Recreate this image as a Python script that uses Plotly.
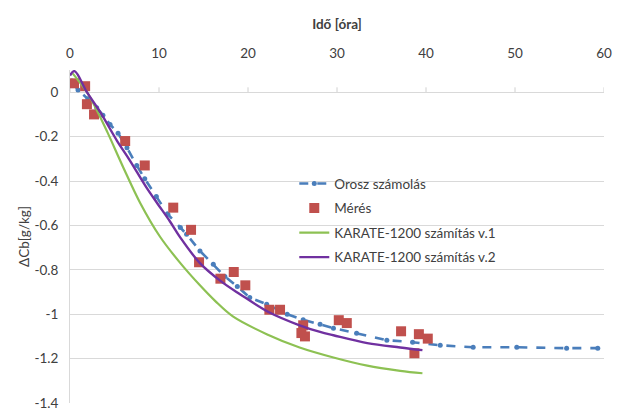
import plotly.graph_objects as go

# --- Data ---
orosz_x = [0.2, 0.9, 2.0, 3.0, 3.7, 4.5, 5.4, 6.4, 7.5, 8.4, 9.7, 11.0, 12.4, 13.1, 14.6, 16.1, 17.4,
           18.8, 20.2, 22.1, 23.6, 24.4, 26.2, 28.1, 29.6, 32.2, 35.6, 38.5, 41.6, 45.3, 50.2, 55.8, 59.3]
orosz_y = [0.05, 0.01, -0.03, -0.07, -0.104, -0.145, -0.185, -0.25, -0.33, -0.39, -0.47, -0.55, -0.61,
           -0.64, -0.715, -0.775, -0.83, -0.875, -0.925, -0.955, -0.985, -1.0, -1.025, -1.045, -1.063,
           -1.086, -1.117, -1.126, -1.14, -1.149, -1.149, -1.153, -1.153]

meres_x = [0.45, 1.7, 1.9, 2.7, 6.2, 8.4, 11.6, 13.6, 14.5, 16.9, 18.4, 19.7, 22.4, 23.6,
           26.2, 26.0, 26.4, 30.2, 31.1, 37.2, 39.2, 40.2, 38.7]
meres_y = [0.04, 0.027, -0.054, -0.10, -0.22, -0.33, -0.52, -0.62, -0.766, -0.84, -0.81, -0.87,
           -0.98, -0.98, -1.05, -1.085, -1.10, -1.027, -1.04, -1.077, -1.09, -1.11, -1.176]

k1_x = [0.3, 1.9, 3.0, 4.2, 6.0, 7.9, 10.1, 12.4, 14.6, 16.3, 18.3, 22.1, 25.8, 29.6, 33.4, 37.1, 39.6]
k1_y = [0.085, 0.0, -0.08, -0.18, -0.34, -0.50, -0.65, -0.77, -0.87, -0.94, -1.01, -1.09, -1.15,
        -1.195, -1.232, -1.255, -1.266]

k2_x = [0.0, 0.5, 1.9, 3.4, 5.3, 6.7, 8.6, 9.8, 11.2, 12.4, 14.6, 16.9, 19.1, 22.3, 25.8, 28.1,
        29.6, 33.4, 37.1, 39.6]
k2_y = [0.075, 0.095, 0.0, -0.09, -0.22, -0.306, -0.43, -0.50, -0.58, -0.655, -0.77, -0.85, -0.91,
        -0.99, -1.05, -1.08, -1.095, -1.13, -1.15, -1.162]

x_ticks = [0, 10, 20, 30, 40, 50, 60]
y_ticks = [0, -0.2, -0.4, -0.6, -0.8, -1.0, -1.2, -1.4]
y_tick_labels = ["0", "-0.2", "-0.4", "-0.6", "-0.8", "-1", "-1.2", "-1.4"]

FONT = "Lato, 'Open Sans', sans-serif"
TXT = "#404040"

fig = go.Figure()
fig.add_trace(go.Scatter(x=orosz_x, y=orosz_y, mode="lines+markers", name="Orosz számolás",
                         legendgroup="a",
                         line=dict(color="#4A7EBB", width=2.6, dash="dash"),
                         marker=dict(color="#4A7EBB", size=5, symbol="circle")))
fig.add_trace(go.Scatter(x=meres_x, y=meres_y, mode="markers", name="Mérés", legendgroup="b",
                         marker=dict(color="#C0504D", size=10, symbol="square")))
fig.add_trace(go.Scatter(x=k1_x, y=k1_y, mode="lines", name="KARATE-1200 számítás v.1",
                         legendgroup="c", line=dict(color="#8DC153", width=2.2, shape="spline")))
fig.add_trace(go.Scatter(x=k2_x, y=k2_y, mode="lines", name="KARATE-1200 számítás v.2",
                         legendgroup="d", line=dict(color="#7030A0", width=2.4, shape="spline")))

# small tick marks on the horizontal axis (drawn at y = 0)
for xv in x_ticks:
    fig.add_shape(type="line", xref="x", yref="y", x0=xv, x1=xv, y0=0, y1=0.022,
                  line=dict(color="#D0D0D0", width=1), layer="below")

fig.update_layout(
    width=624, height=408,
    margin=dict(l=62, r=28, t=62, b=13),
    paper_bgcolor="white", plot_bgcolor="white",
    font=dict(family=FONT, size=13.5, color=TXT),
    showlegend=True,
    legend=dict(x=0.42, y=0.705, xanchor="left", yanchor="top", bgcolor="rgba(0,0,0,0)",
                font=dict(family=FONT, size=13.5, color=TXT), traceorder="grouped",
                tracegroupgap=4, itemwidth=30),
    xaxis=dict(side="top", range=[0, 60], tickvals=x_ticks, showgrid=False, zeroline=False,
               showline=False, ticks="", ticklabelstandoff=8, automargin=False,
               title=dict(text="<b>Idő [óra]</b>", font=dict(family=FONT, size=13.5, color=TXT),
                          standoff=12)),
    yaxis=dict(range=[-1.4, 0.1], tickvals=y_ticks, ticktext=y_tick_labels, showgrid=True,
               gridcolor="#D9D9D9", gridwidth=1, zeroline=False, showline=True, linecolor="#D9D9D9",
               linewidth=1, ticks="", ticklabelstandoff=8, automargin=False,
               title=dict(text="ΔCb[g/kg]", font=dict(family=FONT, size=13.5, color=TXT), standoff=1)),
)

fig.write_html("out.html")
